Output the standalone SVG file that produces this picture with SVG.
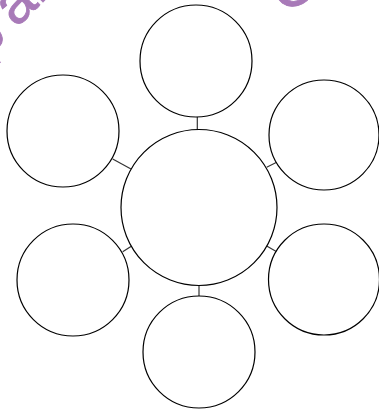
<svg xmlns="http://www.w3.org/2000/svg" width="379" height="409" viewBox="0 0 379 409">
<style>
.n{fill:#fff;stroke:#000;stroke-width:1.2}
.c{stroke:#333;stroke-width:1.2}
.w{fill:#a87ab8;stroke:#a87ab8;stroke-width:0.8;font-family:"Liberation Sans",Arial,sans-serif;font-size:60px}
</style>
<rect width="379" height="409" fill="#fff"/>
<g id="watermark">
<text class="w" transform="translate(-15,60) rotate(-45)">p<tspan dx="11">ar</tspan></text>
<text class="w" transform="translate(282,14) rotate(-28)">C</text>
<text class="w" transform="translate(375,452) rotate(-45)">e</text>
</g>
<g id="connectors">
<line class="c" x1="197.3" y1="116.5" x2="197.3" y2="131"/>
<line class="c" x1="199" y1="284" x2="199" y2="296.5"/>
<line class="c" x1="112.7" y1="159" x2="131" y2="169"/>
<line class="c" x1="266.7" y1="167.3" x2="276.7" y2="162.3"/>
<line class="c" x1="122.7" y1="251.7" x2="131.7" y2="246"/>
<line class="c" x1="266.7" y1="246" x2="276.7" y2="251.7"/>
</g>
<g id="center"><circle class="n" cx="199" cy="207.5" r="78"/></g>
<g id="top"><circle class="n" cx="196" cy="61" r="56"/></g>
<g id="upper-left"><circle class="n" cx="63" cy="131" r="56"/></g>
<g id="upper-right"><circle class="n" cx="324" cy="135" r="55"/></g>
<g id="lower-left"><circle class="n" cx="73" cy="280" r="56"/></g>
<g id="lower-right"><circle class="n" cx="324" cy="279.5" r="55.5"/></g>
<g id="bottom"><circle class="n" cx="199" cy="352" r="56"/></g>
</svg>
